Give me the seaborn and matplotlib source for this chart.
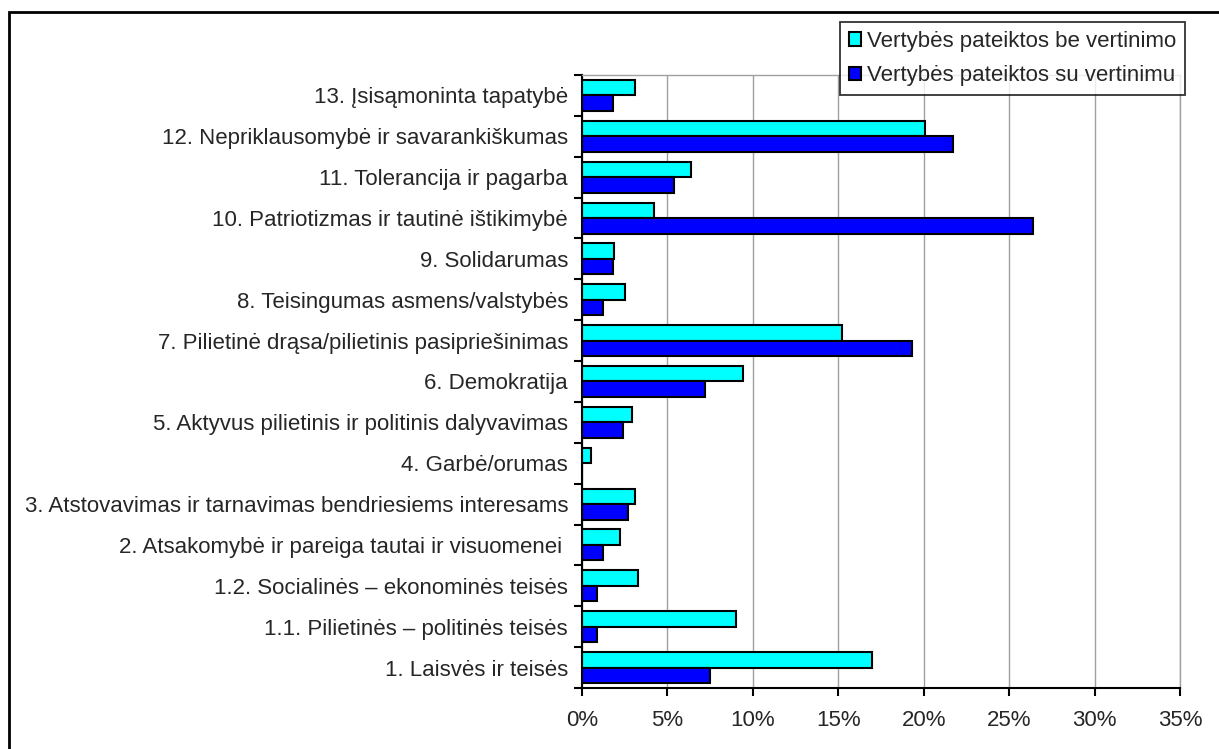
import numpy as np
import pandas as pd
import seaborn as sns
import matplotlib.pyplot as plt
from matplotlib.patches import Rectangle
from matplotlib.ticker import FixedLocator

categories = [
    "13. Įsisąmoninta tapatybė",
    "12. Nepriklausomybė ir savarankiškumas",
    "11. Tolerancija ir pagarba",
    "10. Patriotizmas ir tautinė ištikimybė",
    "9. Solidarumas",
    "8. Teisingumas asmens/valstybės",
    "7. Pilietinė drąsa/pilietinis pasipriešinimas",
    "6. Demokratija",
    "5. Aktyvus pilietinis ir politinis dalyvavimas",
    "4. Garbė/orumas",
    "3. Atstovavimas ir tarnavimas bendriesiems interesams",
    "2. Atsakomybė ir pareiga tautai ir visuomenei ",
    "1.2. Socialinės – ekonominės teisės",
    "1.1. Pilietinės – politinės teisės",
    "1. Laisvės ir teisės",
]
be_vertinimo = [3.1, 20.1, 6.4, 4.2, 1.9, 2.5, 15.2, 9.4, 2.9, 0.5, 3.1, 2.2, 3.3, 9.0, 17.0]
su_vertinimu = [1.8, 21.7, 5.4, 26.4, 1.8, 1.2, 19.3, 7.2, 2.4, 0.0, 2.7, 1.2, 0.9, 0.9, 7.5]
series = ["Vertybės pateiktos be vertinimo", "Vertybės pateiktos su vertinimu"]
x_ticks = [0, 5, 10, 15, 20, 25, 30, 35]

df = pd.concat([
    pd.DataFrame({"cat": categories, "val": be_vertinimo, "serie": series[0]}),
    pd.DataFrame({"cat": categories, "val": su_vertinimu, "serie": series[1]}),
])

sns.set_style("white")
plt.rcParams["font.family"] = ["Liberation Sans", "DejaVu Sans"]

W, H = 1219, 749
fig = plt.figure(figsize=(W / 100, H / 100), dpi=100)
ax = fig.add_axes([582 / W, 1 - 688 / H, 598 / W, 613 / H])

sns.barplot(data=df, y="cat", x="val", hue="serie", orient="h",
            palette=["#00FFFF", "#0000FF"], saturation=1, width=0.76,
            edgecolor="black", linewidth=1.5, ax=ax, legend=True)

ax.set_xlim(0, 35)
ax.set_ylim(len(categories) - 0.5, -0.5)
ax.set_xticks(x_ticks)
ax.set_xticklabels([f"{t}%" for t in x_ticks], fontsize=16)
ax.tick_params(axis="y", which="major", length=0, pad=10, labelsize=16)
ax.yaxis.set_minor_locator(FixedLocator(np.arange(-0.5, len(categories), 1)))
ax.tick_params(axis="y", which="minor", length=6, width=1.5, color="black", direction="out", left=True)
ax.tick_params(axis="x", length=6, width=1.5, color="black", direction="out", bottom=True, pad=10)
ax.set_xlabel("")
ax.set_ylabel("")
ax.xaxis.grid(True, color="#a0a0a0", linewidth=1)
ax.set_axisbelow(True)

for side in ["top", "right"]:
    ax.spines[side].set_color("#a0a0a0")
    ax.spines[side].set_linewidth(1)
for side in ["left", "bottom"]:
    ax.spines[side].set_color("black")
    ax.spines[side].set_linewidth(1.5)

leg = ax.legend(loc="upper right", bbox_to_anchor=(1185 / W, 1 - 22 / H),
                bbox_transform=fig.transFigure, fontsize=16, frameon=True,
                fancybox=False, edgecolor="black", handlelength=0.55, handleheight=0.55,
                handletextpad=0.25, borderpad=0.4, labelspacing=0.6, borderaxespad=0)
leg.get_frame().set_linewidth(1.3)

# outer chart border (right and bottom edges fall outside the image)
fig.patches.append(Rectangle((9 / W, -0.05), 1.0, 1 - 12 / H + 0.05,
                             transform=fig.transFigure, fill=False,
                             edgecolor="black", linewidth=2))

fig.savefig("out.png", dpi=100)
